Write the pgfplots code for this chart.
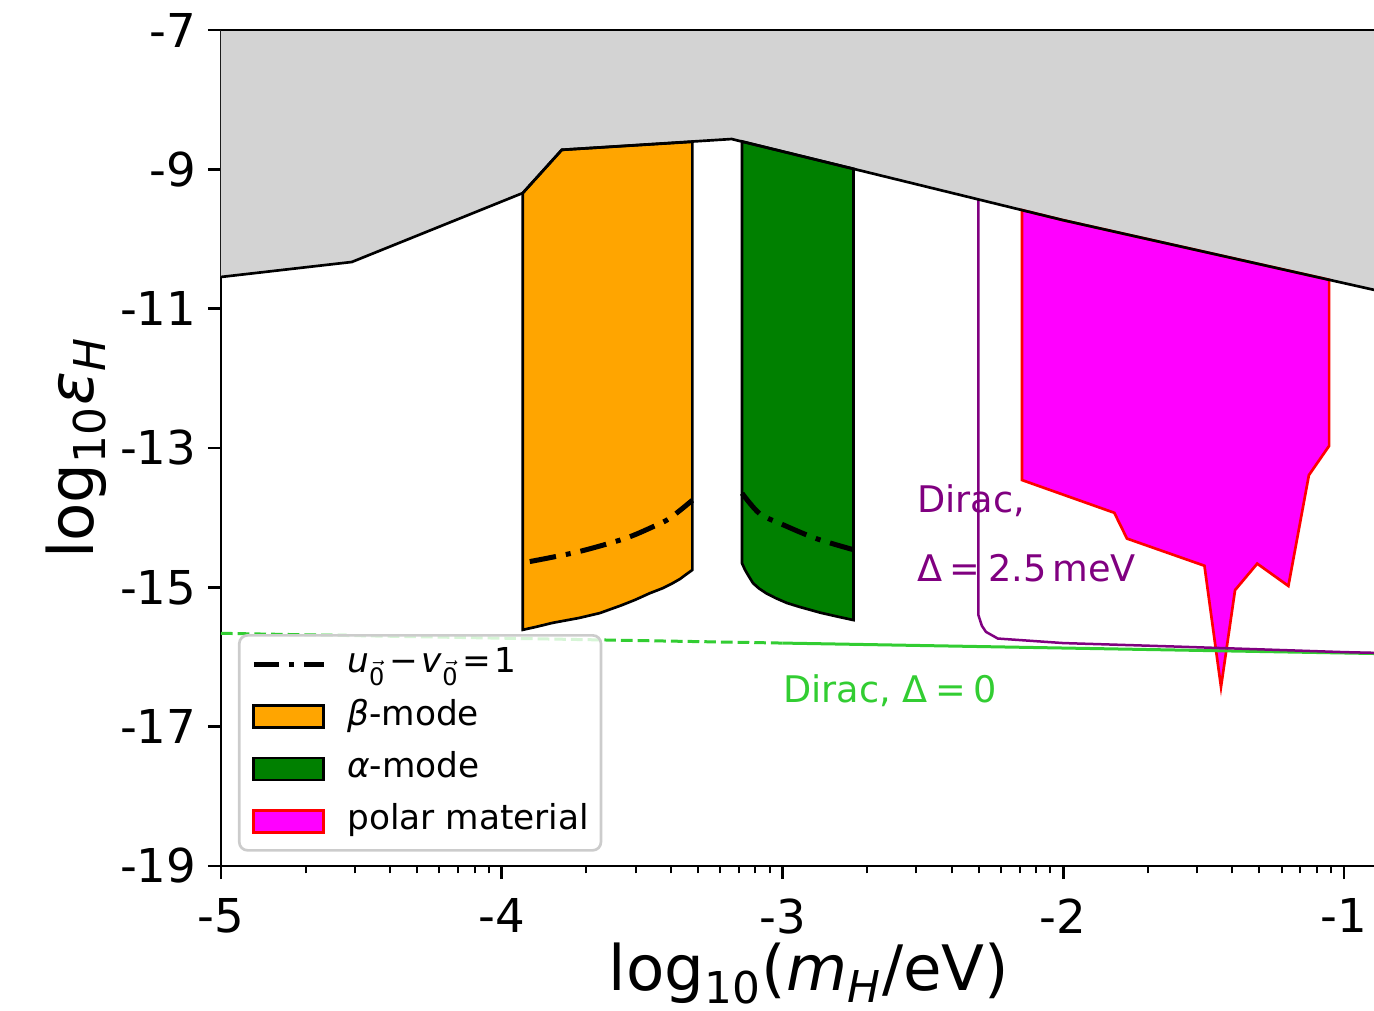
\documentclass[border=0pt]{standalone}
\usepackage{fontspec}
\setmainfont{DejaVu Sans}
\usepackage{pgfplots}
\pgfplotsset{compat=1.18}

\definecolor{grayfill}{RGB}{211,211,211}
\definecolor{mplorange}{RGB}{255,165,0}
\definecolor{mplgreen}{RGB}{0,128,0}
\definecolor{mplmagenta}{RGB}{255,0,255}
\definecolor{mplpurple}{RGB}{128,0,128}
\definecolor{limegreen}{RGB}{50,205,50}
\definecolor{legedge}{RGB}{204,204,204}

\newcommand{\vz}{\textsubscript{\ensuremath{\vec{\mbox{0}}}}}
\newcommand{\asp}{\hspace{0.21em}}
\newcommand{\lsp}{\hspace{0.1em}}

\pgfplotsset{
  mylineleg/.style={legend image code/.code={\draw[##1, sharp corners, opacity=1] (0pt,0pt) -- (21pt,0pt); \path (27.3pt,0pt);}},
  myarealeg/.style={legend image code/.code={\draw[##1, sharp corners, fill opacity=1, draw opacity=1] (0pt,-3.3pt) rectangle (21pt,3.3pt); \path (27.3pt,0pt);}},
}

\begin{document}
\begin{tikzpicture}
\begin{axis}[
  scale only axis, width=345.9pt, height=250.8pt,
  xmin=-5, xmax=-0.893, ymin=-19, ymax=-7,
  clip=false,
  axis x line*=bottom, axis y line*=left,
  axis line style={line width=0.8pt, -},
  xtick={-5,-4,-3,-2,-1}, xticklabels={-5,-4,-3,-2,-1},
  ytick={-19,-17,-15,-13,-11,-9,-7}, yticklabels={-19,-17,-15,-13,-11,-9,-7},
  minor xtick={-4.69897,-4.52288,-4.39794,-4.30103,-4.22185,-4.15490,-4.09691,-4.04576,
               -3.69897,-3.52288,-3.39794,-3.30103,-3.22185,-3.15490,-3.09691,-3.04576,
               -2.69897,-2.52288,-2.39794,-2.30103,-2.22185,-2.15490,-2.09691,-2.04576,
               -1.69897,-1.52288,-1.39794,-1.30103,-1.22185,-1.15490,-1.09691,-1.04576},
  tick align=outside,
  major tick length=3.9pt, minor tick length=2.2pt,
  tick style={black, line width=0.8pt},
  minor tick style={black, line width=0.6pt},
  tick label style={font=\fontsize{14}{16}\selectfont},
  xticklabel style={anchor=north, inner sep=0pt, yshift=-5.7pt},
  yticklabel style={anchor=east, inner sep=0pt, xshift=-3.3pt},
  xlabel={log\textsubscript{10}(\textit{m}\textsubscript{\textit{H}}/eV)},
  ylabel={log\textsubscript{10}\textit{ε}\textsubscript{\textit{H}}},
  xlabel style={at={(axis description cs:0.51,-0.149)}, anchor=base, inner sep=0pt, font=\fontsize{18.8}{22}\selectfont},
  ylabel style={at={(axis description cs:-0.1108,0.5)}, anchor=base, inner sep=0pt, font=\fontsize{18.8}{22}\selectfont},
  legend cell align=left,
  legend style={
    at={(axis description cs:0.0147,0.2775)}, anchor=north west,
    draw=legedge, line width=0.8pt, rounded corners=2.5pt,
    fill=white, fill opacity=0.8, draw opacity=1, text opacity=1,
    font=\fontsize{10.3}{12}\selectfont,
    inner xsep=3.6pt, inner ysep=3.7pt,
    row sep=5.7pt,
    nodes={inner sep=0pt, text height=7.5pt, text depth=2.5pt},
  },
]
% legend entries
\addlegendimage{mylineleg, black, line width=1.5pt, dash pattern=on 7.5pt off 3pt on 1.5pt off 3pt}
\addlegendentry{\textit{u}\vz\lsp−\lsp\textit{v}\vz\lsp=\lsp1}
\addlegendimage{myarealeg, fill=mplorange, draw=black, line width=0.8pt}
\addlegendentry{\textit{β}-mode}
\addlegendimage{myarealeg, fill=mplgreen, draw=black, line width=0.8pt}
\addlegendentry{\textit{α}-mode}
\addlegendimage{myarealeg, fill=mplmagenta, draw=red, line width=0.8pt}
\addlegendentry{polar material}

% excluded region (gray)
\addplot[fill=grayfill, draw=none, forget plot] coordinates {
  (-5,-7) (-0.893,-7) (-0.893,-10.73) (-2.0,-9.73) (-3.181,-8.565)
  (-3.786,-8.72) (-3.925,-9.34) (-4.534,-10.33) (-5,-10.545)} -- cycle;

% beta-mode (orange)
\addplot[fill=mplorange, draw=black, line width=0.8pt, forget plot] coordinates {
  (-3.925,-9.34) (-3.786,-8.72) (-3.321,-8.605) (-3.321,-14.75)
  (-3.345,-14.82) (-3.365,-14.88) (-3.391,-14.94) (-3.425,-15.01) (-3.473,-15.085)
  (-3.525,-15.18) (-3.575,-15.26) (-3.651,-15.37) (-3.725,-15.44) (-3.819,-15.51)
  (-3.875,-15.565) (-3.925,-15.61)} -- cycle;

% alpha-mode (green)
\addplot[fill=mplgreen, draw=black, line width=0.8pt, forget plot] coordinates {
  (-3.144,-8.60) (-2.747,-8.993) (-2.747,-15.47) (-2.804,-15.42) (-2.864,-15.365)
  (-2.94,-15.28) (-2.984,-15.225) (-3.024,-15.155) (-3.058,-15.085) (-3.084,-15.015)
  (-3.105,-14.94) (-3.124,-14.815) (-3.134,-14.745) (-3.144,-14.655)} -- cycle;

% polar material (magenta)
\addplot[fill=mplmagenta, draw=red, line width=0.8pt, forget plot] coordinates {
  (-2.147,-9.585) (-2.0,-9.73) (-1.053,-10.585) (-1.053,-12.97) (-1.125,-13.39)
  (-1.198,-14.98) (-1.309,-14.66) (-1.388,-15.04) (-1.438,-16.43) (-1.497,-14.69)
  (-1.773,-14.30) (-1.818,-13.93) (-2.147,-13.46)} -- cycle;

% u0 - v0 = 1 lines
\addplot[black, line width=1.5pt, smooth, dash pattern=on 8pt off 3pt on 1.5pt off 3pt, forget plot] coordinates {
  (-3.900,-14.63) (-3.728,-14.49) (-3.562,-14.30) (-3.461,-14.13) (-3.402,-14.01) (-3.321,-13.75)};
\addplot[black, line width=1.5pt, smooth, dash pattern=on 8pt off 3pt on 1.5pt off 3pt, forget plot] coordinates {
  (-3.144,-13.65) (-3.082,-13.94) (-2.999,-14.10) (-2.880,-14.30) (-2.747,-14.46)};

% Dirac, Delta = 0
\addplot[limegreen, line width=0.9pt, dash pattern=on 3.5pt off 1.5pt, forget plot] coordinates {
  (-5,-15.66) (-3,-15.80)};
\addplot[limegreen, line width=0.9pt, forget plot] coordinates {
  (-3,-15.80) (-0.893,-15.95)};

% Dirac, Delta = 2.5 meV
\addplot[mplpurple, line width=0.75pt, forget plot] coordinates {
  (-2.302,-9.43) (-2.302,-15.40) (-2.290,-15.55) (-2.275,-15.64) (-2.233,-15.735)
  (-2.0,-15.80) (-1.6,-15.85) (-1.3,-15.89) (-1.0,-15.93) (-0.893,-15.94)};

% boundary of gray region
\addplot[black, line width=0.8pt, forget plot] coordinates {
  (-5,-10.545) (-4.534,-10.33) (-3.925,-9.34) (-3.786,-8.72) (-3.181,-8.565) (-2.0,-9.73) (-0.893,-10.73)};
\addplot[black, line width=0.8pt, forget plot] coordinates {(-5,-7) (-0.893,-7)};

\node[anchor=base west, inner sep=0pt, text=mplpurple, font=\fontsize{11}{13}\selectfont] at (axis cs:-2.523,-13.93) {Dirac,};
\node[anchor=base west, inner sep=0pt, text=mplpurple, font=\fontsize{11}{13}\selectfont] at (axis cs:-2.523,-14.92) {Δ\asp=\asp2.5\,meV};
\node[anchor=base west, inner sep=0pt, text=limegreen, font=\fontsize{11}{13}\selectfont] at (axis cs:-3.0,-16.66) {Dirac, Δ\asp=\asp0};
\end{axis}
\pgfresetboundingbox
\path ([xshift=-66.3pt,yshift=-43.2pt]current axis.south west) rectangle ([yshift=9pt]current axis.north east);
\end{tikzpicture}
\end{document}
